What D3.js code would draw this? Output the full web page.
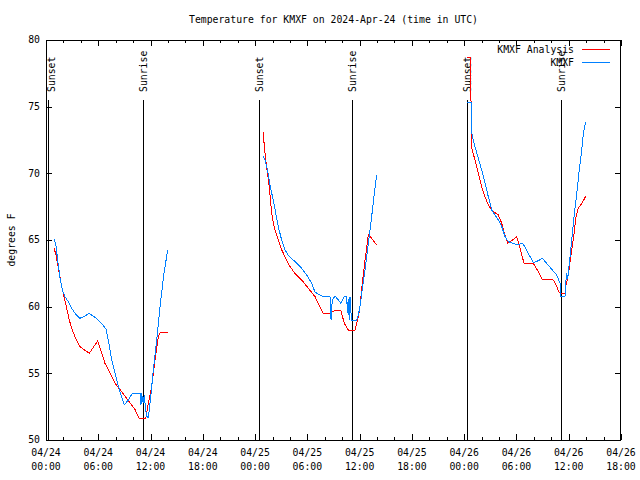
<!DOCTYPE html>
<html><head><meta charset="utf-8">
<script src="https://cdn.jsdelivr.net/npm/d3@7"></script>
<style>
body{margin:0;background:#fff}
text{font-family:"DejaVu Sans Mono","Liberation Mono",monospace;font-size:9.8px;fill:#000}
</style>
</head><body><svg id="c" width="640" height="480"></svg>
<script>
const title = "Temperature for KMXF on 2024-Apr-24 (time in UTC)";
const yLabel = "degrees F";
const seriesNames = ["KMXF Analysis", "KMXF"];
const seriesColors = ["#ff0000", "#0080ff"];
// x in hours since 2024-04-24 00:00 UTC
const xTickHours = [0, 6, 12, 18, 24, 30, 36, 42, 48, 54, 60, 66];
const xTickDates = ["04/24","04/24","04/24","04/24","04/25","04/25","04/25","04/25","04/26","04/26","04/26","04/26"];
const xTickTimes = ["00:00","06:00","12:00","18:00","00:00","06:00","12:00","18:00","00:00","06:00","12:00","18:00"];
const yTicks = [50, 55, 60, 65, 70, 75, 80];
const sunNames = ["Sunset","Sunrise","Sunset","Sunrise","Sunset","Sunrise"];
const sunHours = [0.2, 11.17, 24.41, 35.16, 48.36, 59.15];

// KMXF Analysis (null = gap between days)
const analysisHours = [0.92,1.15,1.53,1.80,2.07,2.38,2.67,2.95,3.33,3.90,4.97,5.93,6.20,6.77,7.35,7.92,9.07,10.21,10.71,11.44,11.74,12.13,12.51,12.89,13.09,14.04,
  null,
  24.94,25.06,25.22,25.45,25.63,25.83,26.02,26.29,26.60,26.97,27.43,28.01,28.58,29.35,30.11,30.88,31.45,31.83,32.60,33.09,33.86,34.24,34.70,35.47,35.66,35.85,36.04,36.24,36.62,37.00,37.38,37.96,
  null,
  48.36,48.75,48.82,49.24,49.62,50.01,50.39,50.77,51.16,51.54,51.92,52.31,52.61,53.00,53.57,54.03,54.41,54.87,55.94,56.51,56.97,58.23,58.54,58.92,59.19,59.57,59.69,59.88,60.03,60.15,60.34,60.61,60.84,61.10,61.49,61.98];
const analysisTemps = [64.4,63.88,62.5,61.5,60.75,59.88,59.0,58.38,57.75,57.0,56.5,57.43,56.88,55.75,55.0,54.25,53.3,52.3,51.58,51.58,52.75,54.0,56.0,57.75,58.05,58.05,
  null,
  73.08,72.0,71.0,69.88,69.0,67.5,66.5,65.75,65.13,64.38,63.75,63.0,62.5,62.0,61.38,60.75,60.0,59.5,59.5,59.68,59.68,58.75,58.25,58.25,58.75,59.25,60.0,61.38,63.5,65.38,65.13,64.63,
  null,
  78.7,78.7,72.0,71.0,70.0,69.0,68.25,67.63,67.25,67.05,66.88,66.25,65.5,64.75,65.0,65.25,64.38,63.25,63.25,62.63,62.05,62.0,61.63,61.05,61.0,61.0,61.63,62.13,62.75,63.38,64.25,65.5,66.75,67.38,67.75,68.3];

// KMXF observations
const obsHours = [0.92,1.11,1.34,1.64,1.92,2.18,2.56,2.95,3.33,3.90,4.48,4.97,5.62,6.39,6.89,7.15,7.54,8.12,8.49,8.99,9.45,9.91,10.79,10.90,10.96,11.17,11.28,11.44,11.56,11.74,11.86,12.02,12.32,12.71,13.09,13.54,13.97,
  null,
  24.94,25.14,25.33,25.52,25.71,25.91,26.09,26.37,26.66,27.05,27.43,27.93,28.58,29.35,29.92,30.50,30.88,31.45,31.83,32.60,32.72,32.86,33.17,33.55,33.86,34.24,34.52,34.59,34.69,34.81,34.89,35.01,35.09,35.66,35.85,36.04,36.24,36.62,37.00,37.38,37.68,37.96,
  null,
  48.36,48.79,48.80,48.94,49.24,49.62,50.01,50.39,50.77,51.16,51.54,51.92,52.31,52.69,53.06,53.64,54.21,54.60,54.79,55.36,55.94,56.51,56.97,57.47,58.05,58.62,59.00,59.11,59.57,59.65,59.77,59.88,60.15,60.34,60.61,60.92,61.21,61.49,61.68,61.95];
const obsTemps = [65.05,64.75,63.5,62.0,61.18,60.75,60.37,59.88,59.5,59.13,59.3,59.5,59.2,58.75,58.3,57.5,56.0,54.5,53.62,52.63,53.0,53.5,53.5,52.63,53.5,52.75,53.38,52.25,51.75,51.7,52.25,53.25,55.25,57.5,60.0,62.5,64.25,
  null,
  71.3,71.0,70.5,69.88,69.13,68.5,68.0,67.0,66.0,65.0,64.25,63.75,63.38,62.88,62.38,61.75,61.08,60.88,60.75,60.75,59.0,60.5,60.8,60.5,60.25,60.8,60.75,59.5,60.6,59.0,60.75,59.5,59.0,59.0,59.38,60.0,61.0,62.75,64.75,66.75,68.5,69.88,
  null,
  75.3,75.3,73.5,72.75,72.0,71.13,70.25,69.25,68.25,67.25,66.88,66.5,66.0,65.25,64.88,64.75,64.63,64.75,64.68,64.0,63.3,63.45,63.63,63.25,62.8,62.38,61.75,60.75,60.75,61.75,62.5,62.1,63.75,65.0,66.75,68.5,70.25,71.75,73.0,73.88];

const svg = d3.select("#c");
const L = 46, R = 621, T = 40, B = 440;
const x = d3.scaleLinear().domain([0, 66]).range([L, R]);
const y = d3.scaleLinear().domain([50, 80]).range([B, T]);

// title
svg.append("text").attr("x", (L + R) / 2).attr("y", 23).attr("text-anchor", "middle").text(title);

// y label
svg.append("text").attr("transform", `translate(12,${(T + B) / 2}) rotate(-90)`)
  .attr("text-anchor", "middle").attr("dy", "0.35em").text(yLabel);

const g = svg.append("g").attr("shape-rendering", "crispEdges");

// minor x ticks (every 2 h) and major (every 6 h)
const minorHours = d3.range(0, 67, 2).filter(h => h % 6 !== 0);
const tickSet = [...minorHours.map(h => [h, 3]), ...xTickHours.map(h => [h, 6])];
tickSet.forEach(([h, len]) => {
  const xx = Math.round(x(h)) + 0.5;
  g.append("line").attr("x1", xx).attr("x2", xx).attr("y1", B).attr("y2", B - len).attr("stroke", "#000");
  g.append("line").attr("x1", xx).attr("x2", xx).attr("y1", T).attr("y2", T + len).attr("stroke", "#000");
});
yTicks.forEach(v => {
  const yy = Math.round(y(v)) + 0.5;
  g.append("line").attr("x1", L).attr("x2", L + 6).attr("y1", yy).attr("y2", yy).attr("stroke", "#000");
  g.append("line").attr("x1", R).attr("x2", R - 6).attr("y1", yy).attr("y2", yy).attr("stroke", "#000");
});

// tick labels
yTicks.forEach(v => {
  svg.append("text").attr("x", L - 6).attr("y", y(v)).attr("dy", "0.35em").attr("text-anchor", "end").text(v);
});
xTickHours.forEach((h, i) => {
  svg.append("text").attr("x", x(h)).attr("y", 456).attr("text-anchor", "middle").text(xTickDates[i]);
  svg.append("text").attr("x", x(h)).attr("y", 470).attr("text-anchor", "middle").text(xTickTimes[i]);
});

// sunrise / sunset
sunHours.forEach((h, i) => {
  const xx = Math.round(x(h)) + 0.5;
  g.append("line").attr("x1", xx).attr("x2", xx).attr("y1", 100).attr("y2", B).attr("stroke", "#000");
  const lx = Math.max(xx, L + 6);
  svg.append("text").attr("transform", `translate(${lx},92) rotate(-90)`)
    .attr("dy", "0.35em").attr("text-anchor", "start").text(sunNames[i]);
});

// data lines
const mk = (hs, ts) => hs.map((h, i) => [h, ts[i]]);
const line = d3.line().defined(d => d[0] != null && d[1] != null).x(d => x(d[0])).y(d => y(d[1]));
svg.append("path").datum(mk(analysisHours, analysisTemps)).attr("d", line)
  .attr("fill", "none").attr("stroke", seriesColors[0]).attr("stroke-width", 1).attr("shape-rendering", "crispEdges");
svg.append("path").datum(mk(obsHours, obsTemps)).attr("d", line)
  .attr("fill", "none").attr("stroke", seriesColors[1]).attr("stroke-width", 1).attr("shape-rendering", "crispEdges");

// frame
g.append("rect").attr("x", L + 0.5).attr("y", T + 0.5).attr("width", R - L - 1).attr("height", B - T)
  .attr("fill", "none").attr("stroke", "#000");

// legend
seriesNames.forEach((n, i) => {
  const ly = 49.5 + i * 13;
  svg.append("text").attr("x", 574).attr("y", ly).attr("dy", "0.35em").attr("text-anchor", "end").text(n);
  svg.append("line").attr("x1", 582).attr("x2", 610).attr("y1", ly).attr("y2", ly)
    .attr("stroke", seriesColors[i]).attr("stroke-width", 1).attr("shape-rendering", "crispEdges");
});
</script>
</body></html>
